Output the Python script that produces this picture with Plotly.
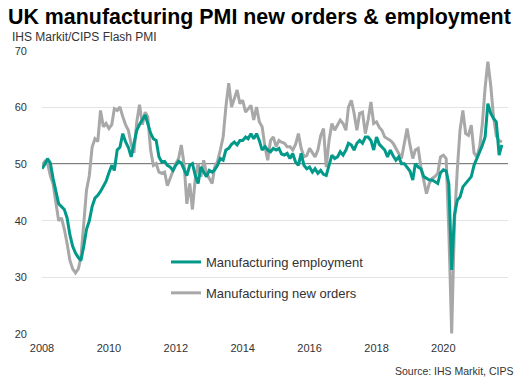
import pandas as pd
import plotly.graph_objects as go

# ---- data (monthly, Jan 2008 - Oct 2021) ----
start_month = "2008-01-01"

employment = [
    # 2008
    49.2, 50.0, 51.0, 50.2, 47.5, 45.0, 43.0, 42.5, 42.0, 40.5, 37.5, 35.5,
    # 2009
    34.3, 33.5, 33.0, 35.5, 38.5, 40.0, 42.5, 44.0, 44.5, 45.2, 46.0, 47.0,
    # 2010
    48.5, 49.8, 48.9, 52.5, 53.0, 55.4, 54.0, 53.0, 51.3, 53.5, 56.0, 57.0,
    # 2011
    57.8, 58.7, 57.2, 55.5, 54.5, 54.2, 51.3, 50.4, 50.5, 49.8, 49.5, 48.9,
    # 2012
    49.8, 50.5, 50.2, 49.2, 48.0, 49.8, 50.1, 48.0, 46.6, 49.5, 48.5, 47.8,
    # 2013
    48.9, 48.6, 49.0, 49.8, 51.0, 50.7, 52.5, 52.8, 53.5, 53.9, 53.4, 54.2,
    # 2014
    54.2, 54.8, 54.5, 55.4, 54.5, 55.4, 54.2, 52.5, 53.1, 52.5, 52.2, 52.8,
    # 2015
    52.5, 52.8, 51.8, 51.6, 51.9, 51.0, 51.9, 50.4, 49.8, 51.9, 49.8, 49.2,
    # 2016
    49.5, 48.6, 49.2, 48.4, 48.9, 48.2, 48.0, 49.8, 51.6, 51.0, 51.3, 52.2,
    # 2017
    51.6, 52.5, 53.7, 53.4, 52.5, 53.7, 54.2, 53.7, 54.8, 54.8, 54.2, 52.5,
    # 2018
    54.8, 53.5, 53.1, 52.5, 51.3, 52.5, 51.5, 50.7, 51.3, 50.1, 50.1, 49.5,
    # 2019
    48.8, 47.2, 50.1, 49.5, 49.2, 47.8, 47.5, 47.2, 47.2, 46.9, 46.6, 48.5,
    # 2020
    49.0, 48.8, 46.5, 31.3, 41.0, 43.6, 44.2, 46.0, 46.6, 47.0, 47.8, 49.8,
    # 2021
    51.0, 52.0, 53.3, 54.8, 60.7, 59.0, 58.1, 57.5, 51.6, 53.4,
]

new_orders = [
    # 2008
    49.8, 50.5, 50.2, 48.0, 46.5, 43.5, 40.0, 40.5, 38.5, 36.0, 33.0, 31.5,
    # 2009
    30.8, 31.5, 33.5, 39.5, 45.4, 48.0, 53.0, 54.5, 54.0, 59.5, 56.6, 57.2,
    # 2010
    56.3, 57.0, 59.8, 59.5, 60.1, 58.4, 57.0, 56.0, 53.5, 52.0, 57.5, 60.5,
    # 2011
    57.0, 59.2, 58.4, 52.5, 49.8, 50.1, 48.6, 48.4, 48.6, 46.2, 47.5, 48.5,
    # 2012
    50.1, 51.0, 53.4, 50.0, 43.0, 46.6, 42.0, 47.5, 50.1, 47.8, 50.7, 48.4,
    # 2013
    47.5, 46.6, 49.5, 50.5, 52.5, 54.8, 60.1, 64.3, 60.1, 61.5, 63.1, 60.7,
    # 2014
    61.3, 59.2, 59.8, 60.4, 57.8, 60.1, 57.5, 56.6, 53.1, 50.7, 54.2, 54.8,
    # 2015
    53.1, 54.2, 53.9, 53.7, 53.1, 53.1, 52.5, 53.5, 55.4, 52.8, 51.3, 51.5,
    # 2016
    52.8, 52.0, 51.3, 52.5, 55.0, 56.3, 49.5, 54.2, 57.2, 56.0, 57.0, 57.8,
    # 2017
    57.2, 56.0, 60.1, 61.3, 59.0, 56.0, 59.0, 59.2, 55.4, 57.8, 61.0, 57.2,
    # 2018
    57.5, 56.5, 56.0, 54.8, 54.5, 54.2, 53.7, 52.8, 52.0, 51.0, 53.7, 56.3,
    # 2019
    53.5, 51.0, 52.5, 52.8, 49.5, 47.2, 44.8, 46.6, 47.5, 47.8, 48.4, 51.3,
    # 2020
    51.6, 51.0, 38.0, 20.1, 39.5, 49.0, 56.0, 59.5, 55.4, 55.1, 56.9, 52.0,
    # 2021
    51.3, 53.1, 57.0, 63.5, 68.1, 64.0, 58.5, 55.0, 54.2, 53.9,
]

tick_years = [2008, 2010, 2012, 2014, 2016, 2018, 2020]
tick_labels = [str(y) for y in tick_years]
y_ticks = [20, 30, 40, 50, 60, 70]

dates = pd.date_range(start_month, periods=len(employment), freq="MS")

TEAL = "#00998A"
GRAY = "#A8A8A8"
FONT = "Liberation Sans, Arial, sans-serif"
TXT = "#333333"

fig = go.Figure()
fig.add_trace(go.Scatter(
    x=dates, y=new_orders, name="Manufacturing new orders", mode="lines",
    line=dict(color=GRAY, width=3), legendrank=2, legendgroup="b",
))
fig.add_trace(go.Scatter(
    x=dates, y=employment, name="Manufacturing employment", mode="lines",
    line=dict(color=TEAL, width=3), legendrank=1, legendgroup="a",
))

fig.add_shape(type="line", xref="paper", x0=0, x1=1, yref="y", y0=50, y1=50,
              line=dict(color="black", width=1.2), layer="between")

fig.update_layout(
    width=529, height=387,
    margin=dict(l=42, r=21, t=51, b=53),
    paper_bgcolor="white", plot_bgcolor="white",
    font=dict(family=FONT, size=11, color=TXT),
    title=dict(
        text="<b>UK manufacturing PMI new orders & employment</b>",
        font=dict(family=FONT, size=21.4, color="black"),
        xref="container", yref="container", x=8 / 529, xanchor="left",
        y=1 - 17 / 387, yanchor="middle",
    ),
    showlegend=True,
    legend=dict(
        x=(166 - 42) / 466, xanchor="left",
        y=(334 - 247) / 283, yanchor="top",
        font=dict(family=FONT, size=13, color=TXT),
        bgcolor="rgba(0,0,0,0)", tracegroupgap=11,
        traceorder="grouped",
    ),
    xaxis=dict(
        type="date",
        range=["2008-01-01", "2021-12-07"],
        tickvals=[pd.Timestamp(f"{y}-01-01") for y in tick_years],
        ticktext=tick_labels,
        showgrid=False, zeroline=False, showline=False, ticks="",
        ticklabelstandoff=6,
        tickfont=dict(family=FONT, size=11, color=TXT),
    ),
    yaxis=dict(
        range=[20, 70], tickvals=y_ticks,
        showgrid=True, gridcolor="#E3E3E3", gridwidth=1,
        zeroline=False, showline=False, ticks="",
        ticklabelstandoff=14,
        tickfont=dict(family=FONT, size=11, color=TXT),
    ),
    annotations=[
        dict(text="IHS Markit/CIPS Flash PMI", xref="paper", yref="paper",
             x=(10 - 42) / 466, y=(334 - 37) / 283, xanchor="left", yanchor="middle",
             showarrow=False, font=dict(family=FONT, size=12, color=TXT)),
        dict(text="Source: IHS Markit, CIPS", xref="paper", yref="paper",
             x=(515 - 42) / 466, y=(334 - 371) / 283, xanchor="right", yanchor="middle",
             showarrow=False, font=dict(family=FONT, size=10.5, color=TXT)),
    ],
)

fig.write_html("out.html", config={"displayModeBar": False},
               post_script="document.body.style.margin='0';")
